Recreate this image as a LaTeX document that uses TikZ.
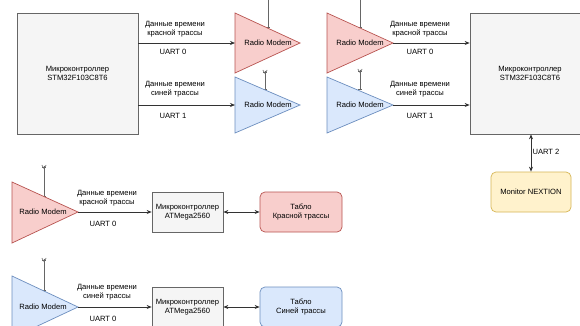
\documentclass[tikz,border=0pt]{standalone}
\usepackage{fontspec}
\setmainfont{Liberation Sans}
\usetikzlibrary{arrows.meta}
\definecolor{redF}{HTML}{F8CECC}\definecolor{redS}{HTML}{B85450}
\definecolor{bluF}{HTML}{DAE8FC}\definecolor{bluS}{HTML}{6C8EBF}
\definecolor{gryF}{HTML}{F5F5F5}\definecolor{gryS}{HTML}{666666}
\definecolor{yelF}{HTML}{FFF2CC}\definecolor{yelS}{HTML}{D6B656}
\definecolor{lnC}{HTML}{333333}
\tikzset{
  txt/.style={font=\fontsize{7.6}{9}\selectfont, align=center, text=black, inner sep=0pt},
  mcubox/.style={draw=gryS, fill=gryF, line width=0.7pt, txt},
  redtri/.style={draw=redS, fill=redF, line width=0.7pt},
  blutri/.style={draw=bluS, fill=bluF, line width=0.7pt},
  tablored/.style={draw=redS, fill=redF, rounded corners=5pt, line width=0.7pt, txt},
  tablobl/.style={draw=bluS, fill=bluF, rounded corners=5pt, line width=0.7pt, txt},
  monbox/.style={draw=yelS, fill=yelF, rounded corners=5pt, line width=0.7pt, txt},
  conn/.style={draw=lnC, line width=0.7pt, -{Stealth[length=5pt,width=4pt]}},
  dconn/.style={draw=lnC, line width=0.7pt, {Stealth[length=5pt,width=4pt]}-{Stealth[length=5pt,width=4pt]}},
  ant/.style={draw=gryS, line width=0.6pt},
}
\newcommand\antenna[3]{% x, top y, bottom y
  \draw[ant] (#1,#2+0.5) -- (#1,#3);
  \draw[ant] (#1-2.2,#2) -- (#1,#2+3.5) -- (#1+2.2,#2);
  \draw[ant] (#1-2,#2+1.8) -- (#1+2,#2+1.8);
  \draw[ant] (#1-2,#3) -- (#1+2,#3);
}
\begin{document}
\begin{tikzpicture}[x=1pt,y=-1pt]
\useasboundingbox (0,0) rectangle (580,325);
\clip (0,0) rectangle (580,325);
\fill[white] (0,0) rectangle (580,325);

% ---------- top left MCU and modems
\node[mcubox, minimum width=121pt, minimum height=121pt] (mcuA) at (77.5,73.5) {Микроконтроллер\\STM32F103C8T6};

\antenna{268}{-6}{27}
\draw[redtri] (235,13) -- (235,73) -- (300,43) -- cycle;
\node[txt] (rmA) at (268,43) {Radio Modem};
\coordinate (rAin) at (235,43);

\antenna{265}{70}{89}
\draw[blutri] (235,77) -- (235,133) -- (300,105) -- cycle;
\node[txt] (bmA) at (268,105) {Radio Modem};
\coordinate (bAin) at (235,105);

\draw[conn] (mcuA.east |- rAin) -- (rAin);
\draw[conn] (mcuA.east |- bAin) -- (bAin);
\node[txt] (lA1) at (175,29) {Данные времени\\красной трассы};
\node[txt] (uA1) at (173,52) {UART 0};
\node[txt] (lA2) at (175,89.5) {Данные времени\\синей трассы};
\node[txt] (uA2) at (173,116) {UART 1};

% ---------- top right modems and MCU
\antenna{360}{-6}{27}
\draw[redtri] (327,13) -- (327,73) -- (393,43) -- cycle;
\node[txt] (rmB) at (360,43) {Radio Modem};
\coordinate (rBout) at (393,43);

\antenna{360}{69}{89}
\draw[blutri] (327,77) -- (327,133) -- (393,105) -- cycle;
\node[txt] (bmB) at (360,105) {Radio Modem};
\coordinate (bBout) at (393,105);

\node[mcubox, minimum width=120pt, minimum height=121pt] (mcuB) at (530,73.5) {Микроконтроллер\\STM32F103C8T6};
\draw[conn] (rBout) -- (mcuB.west |- rBout);
\draw[conn] (bBout) -- (mcuB.west |- bBout);
\node[txt] (lB1) at (420,29) {Данные времени\\красной трассы};
\node[txt] (uB1) at (420,52) {UART 0};
\node[txt] (lB2) at (420,89.5) {Данные времени\\синей трассы};
\node[txt] (uB2) at (420,116) {UART 1};

\node[monbox, minimum width=80pt, minimum height=40pt] (mon) at (531,192) {Monitor NEXTION};
\draw[dconn] (mcuB.south -| mon.north) -- (mon.north);
\node[txt] (u2) at (546,152) {UART 2};

% ---------- bottom red
\antenna{44}{165}{196}
\draw[redtri] (12,182) -- (12,243) -- (78,212) -- cycle;
\node[txt] (rmC) at (43,212) {Radio Modem};
\coordinate (rCout) at (78,212);
\node[mcubox, minimum width=71pt, minimum height=40pt] (atR) at (187.5,212) {Микроконтроллер\\ATMega2560};
\node[tablored, minimum width=82pt, minimum height=40pt] (tbR) at (301,212) {Табло\\Красной трассы};
\draw[conn] (rCout) -- (atR.west);
\draw[dconn] (atR.east) -- (tbR.west);
\node[txt] (lC) at (107,198) {Данные времени\\красной трассы};
\node[txt] (uC) at (103,224) {UART 0};

% ---------- bottom blue
\antenna{44}{258}{290}
\draw[blutri] (12,276) -- (12,338) -- (78,307) -- cycle;
\node[txt] (bmC) at (43,307) {Radio Modem};
\coordinate (bCout) at (78,307);
\node[mcubox, minimum width=71pt, minimum height=40pt] (atB) at (187.5,307) {Микроконтроллер\\ATMega2560};
\node[tablobl, minimum width=82pt, minimum height=40pt] (tbB) at (301,307) {Табло\\Синей трассы};
\draw[conn] (bCout) -- (atB.west);
\draw[dconn] (atB.east) -- (tbB.west);
\node[txt] (lD) at (107,292.5) {Данные времени\\синей трассы};
\node[txt] (uD) at (103,319) {UART 0};
\end{tikzpicture}
\end{document}
